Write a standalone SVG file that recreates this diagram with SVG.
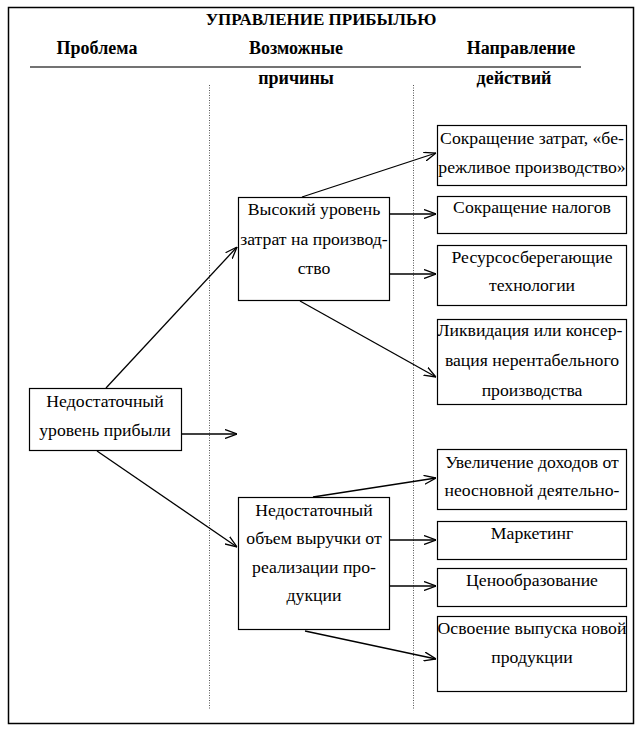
<svg xmlns="http://www.w3.org/2000/svg" width="642" height="733" viewBox="0 0 642 733">
<style>
text{font-family:"Liberation Serif","DejaVu Serif",serif;fill:#000;text-anchor:middle;dominant-baseline:central}
.t{font-size:17.7px}
.h{font-size:18px;font-weight:bold}
.ti{font-size:17px;font-weight:bold}
.b{fill:#fff;stroke:#000;stroke-width:1.2}
.c{stroke:#000;stroke-width:1.3;fill:none;marker-end:url(#a)}
.d{stroke:#555;stroke-width:1;stroke-dasharray:1 1.5;fill:none}
</style>
<defs>
<marker id="a" viewBox="0 0 12 10" refX="12" refY="5" markerWidth="12" markerHeight="10" markerUnits="userSpaceOnUse" orient="auto">
<polyline points="0,0.5 12,5 0,9.5" fill="none" stroke="#000" stroke-width="1.3"/>
</marker>
</defs>
<rect width="642" height="733" fill="#fff"/>
<rect x="8.5" y="7.5" width="625" height="716" fill="none" stroke="#000" stroke-width="1.5"/>
<g id="header">
<text class="ti" x="321" y="19">УПРАВЛЕНИЕ ПРИБЫЛЬЮ</text>
<text class="h" x="97" y="48">Проблема</text>
<text class="h" x="296" y="48">Возможные</text>
<text class="h" x="521" y="48">Направление</text>
<line x1="30" y1="67" x2="581" y2="67" stroke="#444" stroke-width="1.5"/>
<text class="h" x="296" y="78">причины</text>
<text class="h" x="514" y="78">действий</text>
<line class="d" x1="209.5" y1="85" x2="209.5" y2="709"/>
<line class="d" x1="413.5" y1="85" x2="413.5" y2="709"/>
</g>
<g id="connectors">
<line class="c" x1="106" y1="388" x2="237" y2="247"/>
<line class="c" x1="181" y1="434" x2="237" y2="434"/>
<line class="c" x1="97" y1="451" x2="237" y2="547"/>
<line class="c" x1="302" y1="197" x2="436" y2="153"/>
<line class="c" x1="389" y1="214" x2="436" y2="214"/>
<line class="c" x1="389" y1="274" x2="436" y2="274"/>
<line class="c" x1="300" y1="301" x2="436" y2="377"/>
<line class="c" x1="313" y1="497" x2="436" y2="478"/>
<line class="c" x1="389" y1="540" x2="436" y2="540"/>
<line class="c" x1="389" y1="586" x2="436" y2="586"/>
<line class="c" x1="305" y1="631" x2="436" y2="659"/>
</g>
<g id="problem">
<rect class="b" x="29.5" y="388.5" width="152" height="62"/>
<text class="t" x="105" y="401">Недостаточный</text>
<text class="t" x="105" y="430">уровень прибыли</text>
</g>
<g id="cause1">
<rect class="b" x="238.5" y="197.5" width="151" height="103"/>
<text class="t" x="314" y="209">Высокий уровень</text>
<text class="t" x="314" y="239">затрат на производ-</text>
<text class="t" x="314" y="268">ство</text>
</g>
<g id="cause2">
<rect class="b" x="238.5" y="497.5" width="151" height="132"/>
<text class="t" x="314" y="510">Недостаточный</text>
<text class="t" x="314" y="538">объем выручки от</text>
<text class="t" x="314" y="567">реализации про-</text>
<text class="t" x="314" y="595">дукции</text>
</g>
<g id="action1">
<rect class="b" x="437.5" y="125.5" width="189" height="60"/>
<text class="t" x="532" y="138">Сокращение затрат, «бе-</text>
<text class="t" x="532" y="167">режливое производство»</text>
</g>
<g id="action2">
<rect class="b" x="437.5" y="196.5" width="189" height="37"/>
<text class="t" x="532" y="207">Сокращение налогов</text>
</g>
<g id="action3">
<rect class="b" x="437.5" y="245.5" width="189" height="60"/>
<text class="t" x="532" y="257">Ресурсосберегающие</text>
<text class="t" x="532" y="285">технологии</text>
</g>
<g id="action4">
<rect class="b" x="437.5" y="319.5" width="189" height="85"/>
<text class="t" x="530" y="330">Ликвидация или консер-</text>
<text class="t" x="532" y="360">вация нерентабельного</text>
<text class="t" x="532" y="390">производства</text>
</g>
<g id="action5">
<rect class="b" x="437.5" y="449.5" width="189" height="60"/>
<text class="t" x="532" y="462">Увеличение доходов от</text>
<text class="t" x="532" y="490">неосновной деятельно-</text>
</g>
<g id="action6">
<rect class="b" x="437.5" y="521.5" width="189" height="38"/>
<text class="t" x="532" y="533">Маркетинг</text>
</g>
<g id="action7">
<rect class="b" x="437.5" y="568.5" width="189" height="38"/>
<text class="t" x="532" y="580">Ценообразование</text>
</g>
<g id="action8">
<rect class="b" x="437.5" y="616.5" width="189" height="75"/>
<text class="t" x="532" y="628">Освоение выпуска новой</text>
<text class="t" x="532" y="657">продукции</text>
</g>
</svg>
